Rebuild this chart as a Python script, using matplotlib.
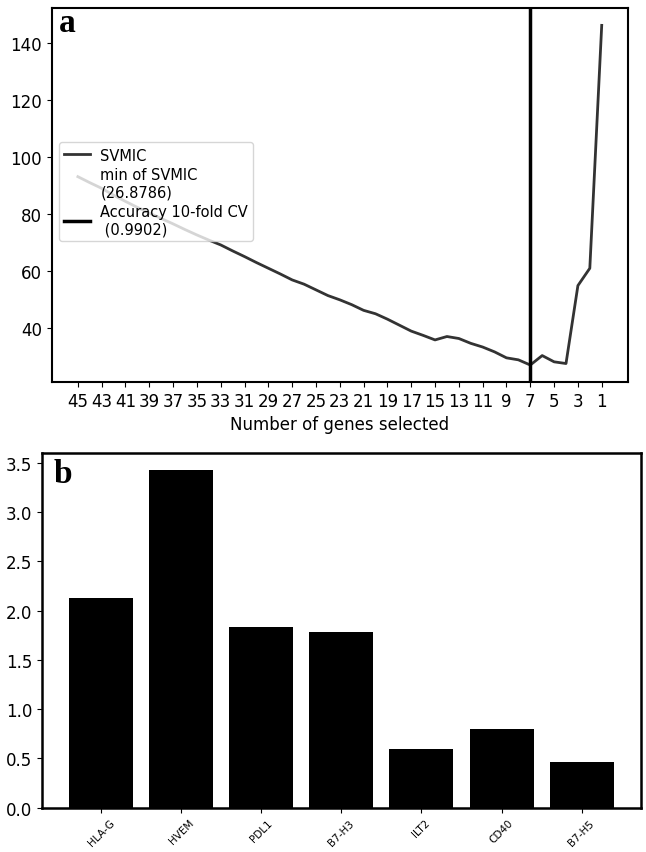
import matplotlib
matplotlib.use('Agg')
import matplotlib.pyplot as plt
import numpy as np

# panel a: SVMIC score vs number of genes kept
n_genes = list(range(45, 0, -1))
svmic = [93.1, 91.0, 89.0, 86.6, 84.4, 82.3, 80.3, 78.4, 76.5, 74.5,
         72.6, 70.8, 69.1, 67.0, 65.0, 62.9, 60.9, 58.9, 56.8, 55.3,
         53.3, 51.3, 49.8, 48.1, 46.1, 44.9, 43.0, 40.9, 38.8, 37.3,
         35.7, 36.9, 36.2, 34.5, 33.2, 31.5, 29.4, 28.7, 26.8786, 30.2,
         28.0, 27.4, 54.8, 60.9, 146.3]
best_n = 7
min_svmic = 26.8786
accuracy = 0.9902
xticks_a = list(range(45, 0, -2))

# panel b: importance per gene
genes = ['HLA-G', 'HVEM', 'PDL1', 'B7-H3', 'ILT2', 'CD40', 'B7-H5']
importance = [2.13, 3.43, 1.83, 1.78, 0.60, 0.80, 0.46]

fig = plt.figure(figsize=(6.46, 8.53), dpi=100)

ax1 = fig.add_axes([0.080, 0.551, 0.892, 0.438])
ax1.plot(n_genes, svmic, color='#333333', lw=2, label='SVMIC')
ax1.plot([best_n], [min_svmic], linestyle='none',
         label='min of SVMIC\n(%.4f)' % min_svmic)
ax1.axvline(best_n, color='black', lw=2.5,
            label='Accuracy 10-fold CV\n (%.4f)' % accuracy)
ax1.invert_xaxis()
ax1.set_xticks(xticks_a)
ax1.tick_params(labelsize=12)
ax1.set_xlabel('Number of genes selected', fontsize=12)
leg = ax1.legend(loc='lower left', bbox_to_anchor=(0.005, 0.365), fontsize=10.5,
                 labelspacing=0.3, handlelength=1.8, borderaxespad=0.3,
                 borderpad=0.35, handletextpad=0.7)
ax1.text(0.012, 0.94, 'a', transform=ax1.transAxes, fontsize=24,
         fontweight='bold', family='Liberation Serif')
for s in ax1.spines.values():
    s.set_linewidth(1.5)

ax2 = fig.add_axes([0.065, 0.052, 0.927, 0.416])
x = np.arange(len(genes))
ax2.bar(x, importance, width=0.8, color='black')
ax2.set_xticks(x)
ax2.set_xticklabels(genes, rotation=45, fontsize=7.5)
ax2.tick_params(axis='y', labelsize=12)
ax2.text(0.02, 0.918, 'b', transform=ax2.transAxes, fontsize=24,
         fontweight='bold', family='Liberation Serif')
for s in ax2.spines.values():
    s.set_linewidth(1.8)

fig.savefig('out.png', dpi=100)
